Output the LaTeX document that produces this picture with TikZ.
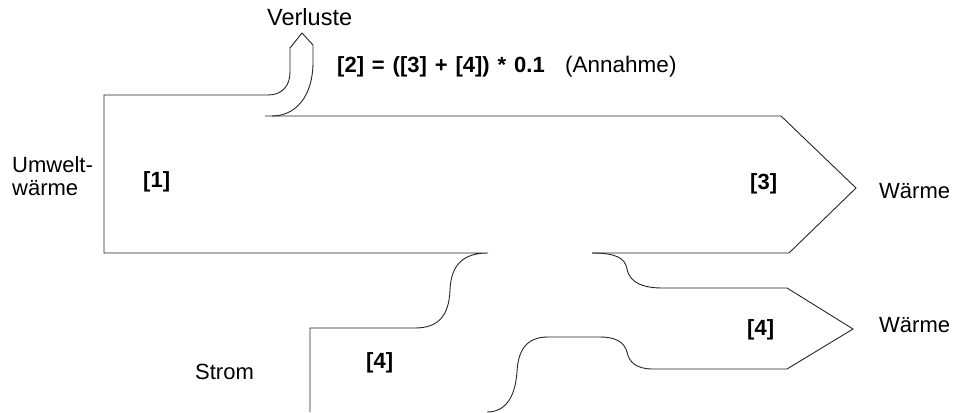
\documentclass[tikz,border=0pt]{standalone}
\usepackage{fontspec}
\setmainfont{Liberation Sans}
\begin{document}
\begin{tikzpicture}[x=1pt,y=-1pt,
  flow/.style={draw=black!85, line width=0.9pt, line join=miter},
  lbl/.style={anchor=base west, inner sep=0pt, font=\fontsize{22}{23}\selectfont},
  blbl/.style={lbl, font=\fontsize{22}{23}\selectfont\bfseries}]
\useasboundingbox (0,0) rectangle (960,412);
% main stream with Strom inflow (left/lower boundary)
\draw[flow] (268,95) -- (104,95) -- (104,253) -- (488,253)
  .. controls (462,253) and (451,266) .. (450,290)
  .. controls (449,316) and (438,328) .. (415,328)
  -- (310,328) -- (310,412);
% Verluste branch
\draw[flow] (268,95) .. controls (282,95) and (290,86) .. (290,72)
  -- (290,48) -- (302,33) -- (313,45) -- (313,62)
  .. controls (313,96) and (296,116) .. (272,116);
% main arrow [3]
\draw[flow] (265,116) -- (781,116) -- (856,188) -- (789,253) -- (592,253);
% outgoing [4] arrow and Strom right boundary
\draw[flow] (592,253) .. controls (616,253) and (625,258) .. (627,269)
  .. controls (630,284) and (645,288) .. (663,288)
  -- (787,288) -- (853,329) -- (787,369) -- (653,369)
  .. controls (636,369) and (629,362) .. (627,352)
  .. controls (624,341) and (614,337) .. (600,337)
  -- (548,337)
  .. controls (525,337) and (518,352) .. (517,372)
  .. controls (515,398) and (505,412) .. (487,412);
% labels
\node[lbl, font=\fontsize{23.5}{24}\selectfont] (verl) at (267,26) {Verluste};
\node[blbl] (form) at (337,72) {\spaceskip=7.9pt [2] = ([3] + [4]) * 0.1};
\node[lbl, font=\fontsize{22.5}{24}\selectfont] (ann) at (565,72) {(Annahme)};
\node[lbl] (umw1) at (12,172) {Umwelt-};
\node[lbl] (umw2) at (12,195) {wärme};
\node[blbl] (l1) at (143,187) {[1]};
\node[blbl] (l3) at (750,189) {[3]};
\node[lbl] (w1) at (879,198) {Wärme};
\node[blbl] (l4a) at (747,335) {[4]};
\node[lbl] (w2) at (879,332) {Wärme};
\node[blbl] (l4b) at (366,368) {[4]};
\node[lbl] (strom) at (195,379) {Strom};
\end{tikzpicture}
\end{document}
